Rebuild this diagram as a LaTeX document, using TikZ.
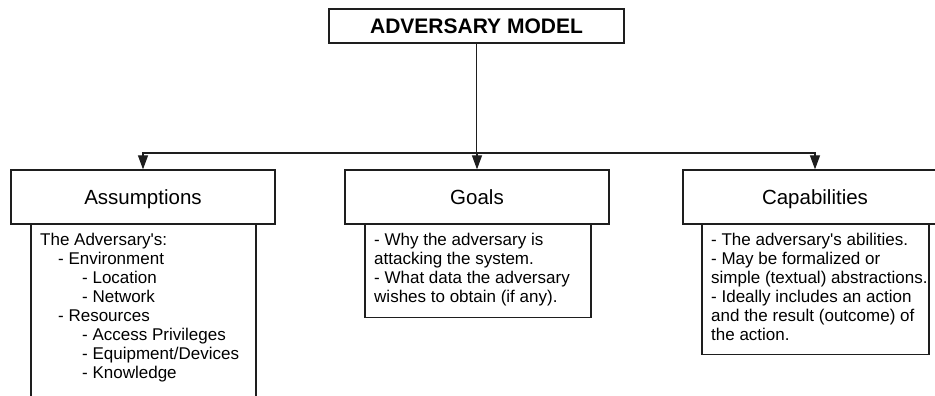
\documentclass[tikz,border=0pt]{standalone}
\usepackage{fontspec}
\setmainfont{Liberation Sans}
\usetikzlibrary{arrows.meta}
\definecolor{ink}{HTML}{1E1E1E}
\tikzset{
  box/.style={draw=ink, line width=1.3pt, rectangle, inner sep=0pt, fill=white},
  titlebox/.style={box, minimum width=264pt, minimum height=54pt, text height=18pt, text depth=4pt, font=\fontsize{20.5}{24}\selectfont},
  body/.style={anchor=north west, inner sep=0pt, align=left, font=\fontsize{17}{19}\selectfont},
  conn/.style={draw=ink, line width=1.2pt},
  arr/.style={conn, -{Triangle[length=14pt,width=10pt]}}
}
\newcommand{\firstln}{\rule{0pt}{13pt}}
\newcommand{\apos}{\XeTeXglyph\XeTeXcharglyph"0027\relax}
\begin{document}
\begin{tikzpicture}[x=1pt,y=-1pt]
\clip (0,0) rectangle (935,396);
\fill[white] (0,0) rectangle (935,396);
% top
\node[box, minimum width=295pt, minimum height=34pt, text height=15.5pt, text depth=0.5pt, font=\bfseries\fontsize{21}{24}\selectfont] (top) at (476.5,26) {ADVERSARY MODEL};
% lower description boxes
\node[box, minimum width=225pt, minimum height=206pt, anchor=north] (alow) at (143.5,224) {};
\node[box, minimum width=226pt, minimum height=93pt, anchor=north] (glow) at (478,224) {};
\node[box, minimum width=227pt, minimum height=130pt, anchor=north] (clow) at (815.5,224) {};
% title boxes
\node[titlebox] (assump) at (143,197) {Assumptions};
\node[titlebox] (goals) at (477,197) {Goals};
\node[titlebox] (caps) at (815,197) {Capabilities};
% texts
\node[body] (atext) at (40,232) {\firstln The Adversary\apos s:\\
\hspace*{18pt}- Environment\\
\hspace*{42pt}- Location\\
\hspace*{42pt}- Network\\
\hspace*{18pt}- Resources\\
\hspace*{42pt}- Access Privileges\\
\hspace*{42pt}- Equipment/Devices\\
\hspace*{42pt}- Knowledge};
\node[body] (gtext) at (374,232) {\firstln - Why the adversary is\\
attacking the system.\\
- What data the adversary\\
wishes to obtain (if any).};
\node[body] (ctext) at (711,232) {\firstln - The adversary\apos s abilities.\\
- May be formalized or\\
simple (textual) abstractions.\\
- Ideally includes an action\\
and the result (outcome) of\\
the action.};
% connectors
\coordinate (bus) at (476.5,153);
\draw[conn] (top.south) -- (bus);
\draw[arr] (bus) -| (assump.north);
\draw[arr] (bus) -| (caps.north);
\draw[arr] (bus) -- (bus -| goals.north) -- (goals.north);
\end{tikzpicture}
\end{document}
